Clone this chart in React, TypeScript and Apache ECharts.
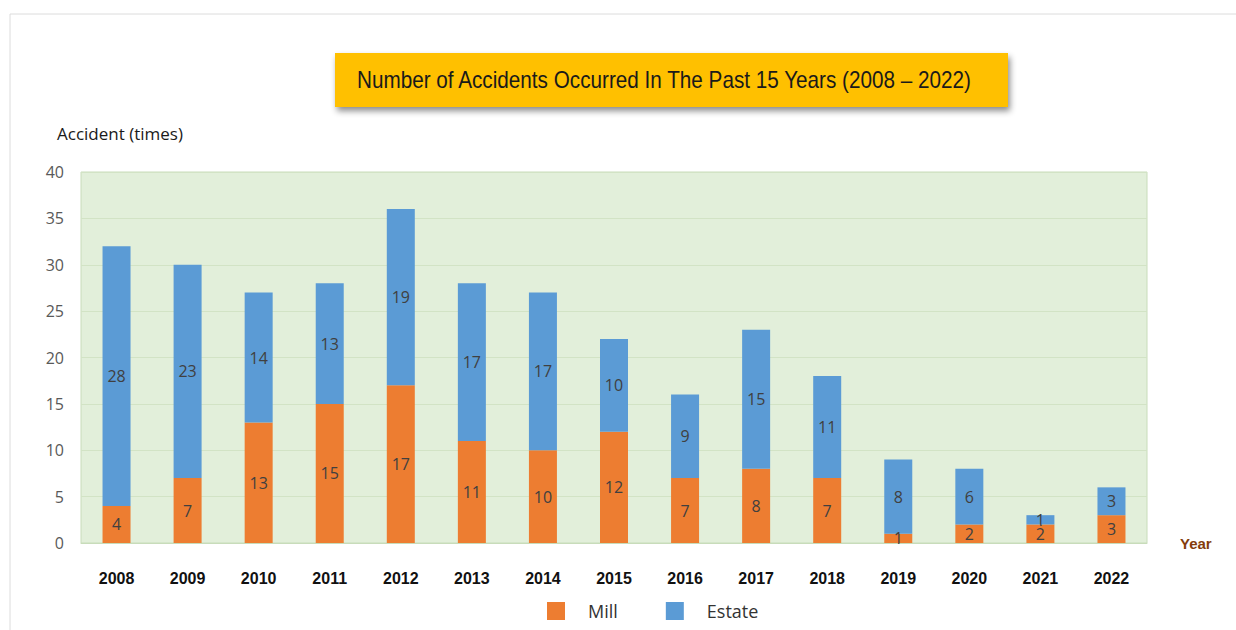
import React, { useEffect, useRef } from "react";
import * as echarts from "echarts";

const years = ["2008", "2009", "2010", "2011", "2012", "2013", "2014", "2015", "2016", "2017", "2018", "2019", "2020", "2021", "2022"];
const mill = [4, 7, 13, 15, 17, 11, 10, 12, 7, 8, 7, 1, 2, 2, 3];
const estate = [28, 23, 14, 13, 19, 17, 17, 10, 9, 15, 11, 8, 6, 1, 3];
const titleText = "Number of Accidents Occurred In The Past 15 Years (2008 \u2013 2022)";

const labelStyle = {
  show: true,
  position: "inside" as const,
  color: "#404040",
  fontSize: 16,
  fontFamily: "'Open Sans', 'Noto Sans', sans-serif",
};

export default function App() {
  const ref = useRef<HTMLDivElement>(null);

  useEffect(() => {
    document.body.style.margin = "0";
    if (!ref.current) return;
    const chart = echarts.init(ref.current, null, { renderer: "svg" });
    chart.setOption({
      animation: false,
      backgroundColor: "#ffffff",
      grid: {
        left: 81,
        right: 89,
        top: 172,
        bottom: 87,
        show: true,
        backgroundColor: "#E2EFDA",
        borderColor: "#C8DCBA",
        borderWidth: 1,
      },
      legend: {
        bottom: 5,
        left: 542,
        icon: "rect",
        itemWidth: 18,
        itemHeight: 18,
        itemGap: 48,
        textStyle: {
          color: "#333333",
          fontSize: 18,
          fontFamily: "'Open Sans', 'Noto Sans', sans-serif",
          padding: [0, 0, 0, 18],
        },
        data: ["Mill", "Estate"],
      },
      xAxis: {
        type: "category",
        data: years,
        name: "Year",
        nameLocation: "end",
        nameGap: 33,
        nameTextStyle: {
          color: "#843C0C",
          fontSize: 15,
          fontWeight: "bold",
          fontFamily: "'Liberation Sans', sans-serif",
          verticalAlign: "middle",
        },
        axisLine: { show: true, lineStyle: { color: "#C8DCBA" } },
        axisTick: { show: false },
        axisLabel: {
          margin: 27,
          color: "#111111",
          fontSize: 16,
          fontWeight: "bold",
          fontFamily: "'Liberation Sans', sans-serif",
        },
      },
      yAxis: {
        type: "value",
        min: 0,
        max: 40,
        interval: 5,
        axisLine: { show: false },
        axisTick: { show: false },
        axisLabel: {
          margin: 17,
          color: "#595959",
          fontSize: 16,
          fontFamily: "'Open Sans', 'Noto Sans', sans-serif",
        },
        splitLine: { lineStyle: { color: "#D2E3C5", width: 1 } },
      },
      series: [
        {
          name: "Mill",
          type: "bar",
          stack: "total",
          barWidth: 28,
          data: mill,
          itemStyle: { color: "#ED7D31" },
          label: labelStyle,
        },
        {
          name: "Estate",
          type: "bar",
          stack: "total",
          barWidth: 28,
          data: estate,
          itemStyle: { color: "#5B9BD5" },
          label: labelStyle,
        },
      ],
      graphic: [
        {
          type: "line",
          shape: { x1: 10, y1: 14, x2: 1236, y2: 14 },
          style: { stroke: "#DCDCDC", lineWidth: 1 },
          silent: true,
        },
        {
          type: "line",
          shape: { x1: 10, y1: 14, x2: 10, y2: 630 },
          style: { stroke: "#DCDCDC", lineWidth: 1 },
          silent: true,
        },
        {
          type: "rect",
          shape: { x: 335, y: 53, width: 673, height: 54 },
          style: {
            fill: "#FFC000",
            shadowBlur: 6,
            shadowOffsetX: 2,
            shadowOffsetY: 4,
            shadowColor: "rgba(0,0,0,0.45)",
          },
        },
        {
          type: "text",
          x: 357,
          y: 80,
          scaleX: 0.9,
          style: {
            text: titleText,
            fill: "#1A1A1A",
            fontSize: 23,
            fontFamily: "'Liberation Sans', sans-serif",
            verticalAlign: "middle",
            align: "left",
          },
        },
        {
          type: "text",
          x: 57,
          y: 133,
          style: {
            text: "Accident (times)",
            fill: "#1A1A1A",
            fontSize: 17,
            fontFamily: "'Open Sans', 'Noto Sans', sans-serif",
            verticalAlign: "middle",
            align: "left",
          },
        },
      ],
    });
    return () => chart.dispose();
  }, []);

  return <div ref={ref} style={{ width: 1236, height: 630 }} />;
}
